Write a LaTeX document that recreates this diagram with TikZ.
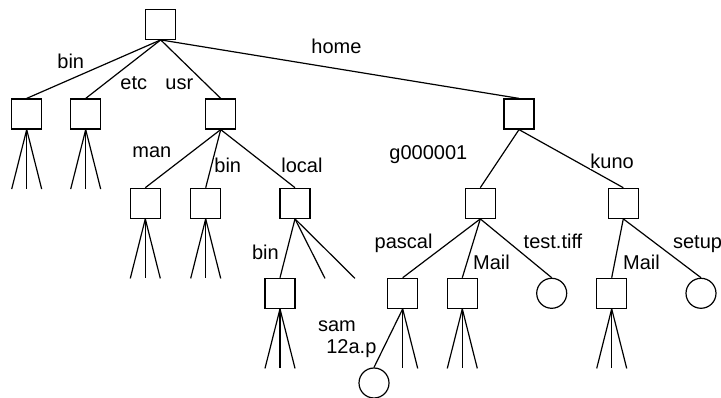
\documentclass[tikz,border=0pt]{standalone}
\usepackage{fontspec}
\setmainfont{Liberation Sans}

\begin{document}
\begin{tikzpicture}[x=0.75pt,y=-0.75pt,line width=0.9pt]
\tikzstyle{dir}=[draw,rectangle,minimum size=22.5pt,inner sep=0pt];
\tikzstyle{file}=[draw,circle,minimum size=22.5pt,inner sep=0pt];
\tikzstyle{lbl}=[anchor=base west,inner sep=0.6pt,fill=white,font=\fontsize{15}{16.2}\selectfont];
\useasboundingbox (0,0) rectangle (721,398);
\node[dir] (root) at (160.7,24.3) {};
\node[dir] (bin) at (26.7,114) {};
\node[dir] (etc) at (85.7,114) {};
\node[dir] (usr) at (220.7,114) {};
\node[dir] (home) at (519,114) {};
\node[dir] (man) at (145.3,203.3) {};
\node[dir] (usrbin) at (205.7,203.3) {};
\node[dir] (local) at (295,203.3) {};
\node[dir] (gdir) at (480.3,203.3) {};
\node[dir] (kuno) at (623.3,203.3) {};
\node[dir] (localbin) at (280,293.3) {};
\node[dir] (pascal) at (402.7,293.3) {};
\node[dir] (gmail) at (462.3,293.3) {};
\node[file] (tiff) at (551.7,293.3) {};
\node[dir] (kmail) at (611.7,293.3) {};
\node[file] (setup) at (701,293.3) {};
\node[file] (sam) at (374,383) {};
\draw (root.south) -- (bin.north);
\draw (root.south) -- (etc.north);
\draw (root.south) -- (usr.north);
\draw (root.south) -- (home.north);
\draw (usr.south) -- (man.north);
\draw (usr.south) -- (usrbin.north);
\draw (usr.south) -- (local.north);
\draw (home.south) -- (gdir.north);
\draw (home.south) -- (kuno.north);
\draw (local.south) -- (localbin.north);
\draw (gdir.south) -- (pascal.north);
\draw (gdir.south) -- (gmail.north);
\draw (gdir.south) -- (tiff.north);
\draw (kuno.south) -- (kmail.north);
\draw (kuno.south) -- (setup.north);
\draw (pascal.south) -- (sam.north);
\foreach \n in {bin,etc,man,usrbin,localbin,gmail,kmail}
  \foreach \dx/\i in {-15/a,0/b,15/c} {
    \path (\n.south) ++(\dx,59.5) coordinate (\n-\i);
    \draw (\n.south) -- (\n-\i);
  }
\foreach \dx/\i in {0/b,15/c} {
  \path (pascal.south) ++(\dx,59.5) coordinate (pascal-\i);
  \draw (pascal.south) -- (pascal-\i);
}
\foreach \dx/\i in {30/b,60/c} {
  \path (local.south) ++(\dx,59.5) coordinate (local-\i);
  \draw (local.south) -- (local-\i);
}
\node[lbl] (l-bin) at (56,68.3) {bin};
\node[lbl] (l-etc) at (119,90) {etc};
\node[lbl] (l-usr) at (164,90) {usr};
\node[lbl] (l-home) at (310,54) {home};
\node[lbl] (l-man) at (131,157.3) {man};
\node[lbl] (l-usrbin) at (213,172.3) {bin};
\node[lbl] (l-local) at (280,172.3) {local};
\node[lbl] (l-gdir) at (388,159.3) {g000001};
\node[lbl] (l-kuno) at (589,168.3) {kuno};
\node[lbl] (l-localbin) at (250.7,259.3) {bin};
\node[lbl] (l-pascal) at (373.3,248.3) {pascal};
\node[lbl] (l-gmail) at (471.7,269.3) {Mail};
\node[lbl] (l-tiff) at (522.3,248.3) {test.tiff};
\node[lbl] (l-kmail) at (621.7,269.3) {Mail};
\node[lbl] (l-setup) at (671.7,248.3) {setup};
\node[lbl,align=left] (l-sam) at (316.7,353.3) {sam\\\hspace*{6.2pt}12a.p};
\end{tikzpicture}
\end{document}
